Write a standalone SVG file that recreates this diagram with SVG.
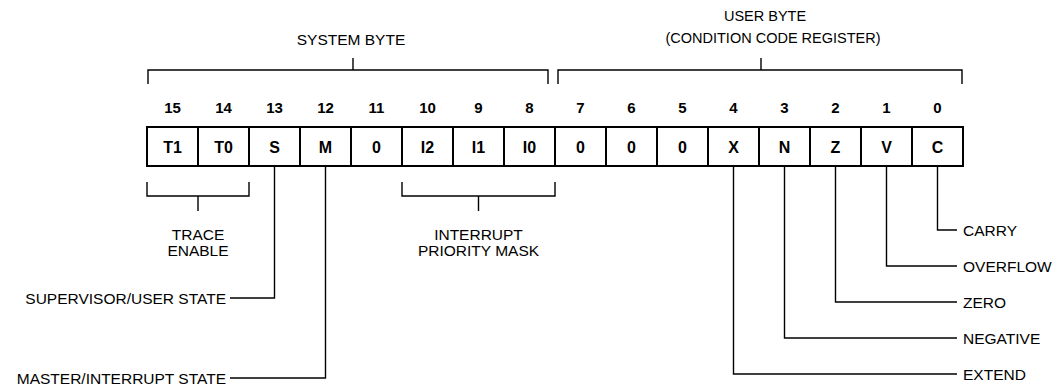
<svg xmlns="http://www.w3.org/2000/svg" width="1060" height="390" viewBox="0 0 1060 390">
<style>
.bg{fill:#fff}
.box{fill:#fff;stroke:#000;stroke-width:2}
.ln{fill:none;stroke:#000;stroke-width:1.4}
.t{font-family:"Liberation Sans",Arial,sans-serif;fill:#000}
.num{font-size:15px;font-weight:bold;text-anchor:middle}
.bit{font-size:16px;font-weight:bold;text-anchor:middle}
.lab{font-size:15.5px}
.mid{text-anchor:middle}
.end{text-anchor:end}
</style>
<rect class="bg" x="0" y="0" width="1060" height="390"/>
<g id="headers">
<text class="t lab mid" x="351" y="45">SYSTEM BYTE</text>
<text class="t mid" x="765" y="21" font-size="14.5">USER BYTE</text>
<text class="t mid" x="773" y="43" font-size="14.5">(CONDITION CODE REGISTER)</text>
</g>
<g id="bitnumbers" class="t num">
<text x="172.5" y="113">15</text><text x="223.5" y="113">14</text><text x="274.5" y="113">13</text><text x="325.5" y="113">12</text>
<text x="376.5" y="113">11</text><text x="427.5" y="113">10</text><text x="478.5" y="113">9</text><text x="529.5" y="113">8</text>
<text x="580.5" y="113">7</text><text x="631.5" y="113">6</text><text x="682.5" y="113">5</text><text x="733.5" y="113">4</text>
<text x="784.5" y="113">3</text><text x="835.5" y="113">2</text><text x="886.5" y="113">1</text><text x="937.5" y="113">0</text>
</g>
<g id="bit15"><rect class="box" x="147" y="127" width="51" height="39"/><text class="t bit" x="172.5" y="152.5">T1</text></g>
<g id="bit14"><rect class="box" x="198" y="127" width="51" height="39"/><text class="t bit" x="223.5" y="152.5">T0</text></g>
<g id="bit13"><rect class="box" x="249" y="127" width="51" height="39"/><text class="t bit" x="274.5" y="152.5">S</text></g>
<g id="bit12"><rect class="box" x="300" y="127" width="51" height="39"/><text class="t bit" x="325.5" y="152.5">M</text></g>
<g id="bit11"><rect class="box" x="351" y="127" width="51" height="39"/><text class="t bit" x="376.5" y="152.5">0</text></g>
<g id="bit10"><rect class="box" x="402" y="127" width="51" height="39"/><text class="t bit" x="427.5" y="152.5">I2</text></g>
<g id="bit9"><rect class="box" x="453" y="127" width="51" height="39"/><text class="t bit" x="478.5" y="152.5">I1</text></g>
<g id="bit8"><rect class="box" x="504" y="127" width="51" height="39"/><text class="t bit" x="529.5" y="152.5">I0</text></g>
<g id="bit7"><rect class="box" x="555" y="127" width="51" height="39"/><text class="t bit" x="580.5" y="152.5">0</text></g>
<g id="bit6"><rect class="box" x="606" y="127" width="51" height="39"/><text class="t bit" x="631.5" y="152.5">0</text></g>
<g id="bit5"><rect class="box" x="657" y="127" width="51" height="39"/><text class="t bit" x="682.5" y="152.5">0</text></g>
<g id="bit4"><rect class="box" x="708" y="127" width="51" height="39"/><text class="t bit" x="733.5" y="152.5">X</text></g>
<g id="bit3"><rect class="box" x="759" y="127" width="51" height="39"/><text class="t bit" x="784.5" y="152.5">N</text></g>
<g id="bit2"><rect class="box" x="810" y="127" width="51" height="39"/><text class="t bit" x="835.5" y="152.5">Z</text></g>
<g id="bit1"><rect class="box" x="861" y="127" width="51" height="39"/><text class="t bit" x="886.5" y="152.5">V</text></g>
<g id="bit0"><rect class="box" x="912" y="127" width="51" height="39"/><text class="t bit" x="937.5" y="152.5">C</text></g>
<g id="labels" class="t lab">
<text class="mid" x="198" y="240">TRACE</text><text class="mid" x="198" y="256">ENABLE</text>
<text class="mid" x="478.5" y="240">INTERRUPT</text><text class="mid" x="478.5" y="256">PRIORITY MASK</text>
<text class="end" x="226" y="303.5">SUPERVISOR/USER STATE</text>
<text class="end" x="226" y="383.5">MASTER/INTERRUPT STATE</text>
<text x="963" y="235.5">CARRY</text>
<text x="963" y="271.5">OVERFLOW</text>
<text x="963" y="307.5">ZERO</text>
<text x="963" y="343.5">NEGATIVE</text>
<text x="963" y="379.5">EXTEND</text>
</g>
<g id="connectors" class="ln">
<path d="M148,84 V70 H548 V84 M353,70 V58"/>
<path d="M558,84 V70 H962 V84 M761,70 V58"/>
<path d="M147,182 V196 H249 V182 M198,196 V211"/>
<path d="M402,182 V196 H555 V182 M478.5,196 V211"/>
<path d="M274.5,166 V298 H230"/>
<path d="M325.5,166 V378 H230"/>
<path d="M937.5,166 V230 H957"/>
<path d="M886.5,166 V266 H957"/>
<path d="M835.5,166 V302 H957"/>
<path d="M784.5,166 V338 H957"/>
<path d="M733.5,166 V374 H957"/>
</g>
</svg>
